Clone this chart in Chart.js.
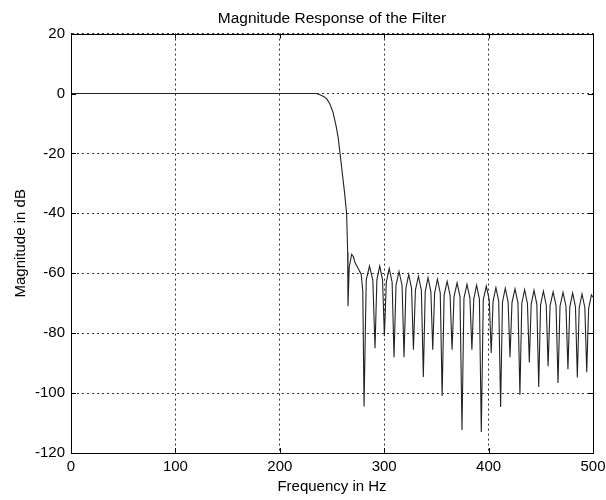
<!DOCTYPE html>
<html>
<head>
<meta charset="utf-8">
<title>Magnitude Response of the Filter</title>
<script src="https://cdn.jsdelivr.net/npm/chart.js@4/dist/chart.umd.min.js"></script>
<style>
  html, body { margin: 0; padding: 0; background: #fff; }
  #wrap { width: 606px; height: 500px; }
</style>
</head>
<body>
<div id="wrap"><canvas id="magChart" width="606" height="500"></canvas></div>
<script>
const xTicks = [0, 100, 200, 300, 400, 500];
const yTicks = [-120, -100, -80, -60, -40, -20, 0, 20];

// frequency (Hz) and magnitude (dB)
const freqHz = [
  0, 235, 238, 242, 245, 248, 251, 254, 256, 257.7, 260, 262, 264, 265, 265.3,
  266.5, 268.8, 270.5, 272, 275.5, 278, 279.5, 280.7,
  282.8, 285.9, 289.1, 291.2,
  293.0, 295.7, 298.4, 300.2,
  302.0, 304.8, 307.6, 309.4,
  311.3, 314.2, 317.1, 319,
  320.8, 323.5, 326.2, 328,
  329.9, 332.8, 335.6, 337.5,
  339.3, 342, 344.7, 346.5,
  348.3, 351, 353.7, 355.5,
  357.4, 360.3, 363.1, 365,
  366.9, 369.8, 372.6, 374.5,
  376.4, 379.3, 382.1, 384,
  385.8, 388.5, 391.2, 393,
  394.9, 397.8, 400.6, 402.5,
  404.3, 407, 409.7, 411.5,
  413.3, 416, 418.7, 420.5,
  422.4, 425.3, 428.1, 430,
  431.8, 434.5, 437.2, 439,
  440.8, 443.5, 446.2, 448,
  449.8, 452.5, 455.2, 457,
  458.9, 461.8, 464.6, 466.5,
  468.4, 471.3, 474.1, 476,
  477.8, 480.5, 483.2, 485,
  486.8, 489.5, 492.2, 494,
  495.8, 498.5, 500
];
const magDb = [
  0, 0, -0.3, -1, -1.8, -3.5, -6.3, -11, -15, -20, -27, -33, -40, -53, -71,
  -58, -53.7, -54.5, -56.4, -58.7, -60.4, -66, -104.5,
  -62.2, -57.6, -62.2, -85,
  -62.2, -57.6, -62.2, -81,
  -63, -58.4, -63, -88,
  -64, -59.4, -64, -88,
  -65, -60.4, -65, -85.5,
  -65.6, -61, -65.6, -94.6,
  -66.1, -61.5, -66.1, -85.5,
  -66.6, -62, -66.6, -101,
  -67.3, -62.7, -67.3, -85.5,
  -67.8, -63.2, -67.8, -112.3,
  -68.3, -63.7, -68.3, -85.5,
  -68.6, -64, -68.6, -113,
  -68.9, -64.3, -68.9, -86.6,
  -69.4, -64.8, -69.4, -104.6,
  -69.6, -65, -69.6, -88,
  -69.8, -65.2, -69.8, -100.6,
  -70.1, -65.5, -70.1, -89.8,
  -70.3, -65.7, -70.3, -98,
  -70.6, -66, -70.6, -91,
  -70.8, -66.2, -70.8, -96.6,
  -71, -66.4, -71, -92,
  -71.2, -66.6, -71.2, -94.8,
  -71.5, -66.9, -71.5, -93,
  -71.8, -67.2, -68
];

const fontFamily = "'Liberation Sans', Arial, sans-serif";

// MATLAB style: full box + inward tick marks on all four sides
const boxTicks = {
  id: 'boxTicks',
  afterDraw(chart) {
    const { ctx, chartArea: a, scales } = chart;
    ctx.save();
    ctx.strokeStyle = '#000';
    ctx.lineWidth = 1;
    ctx.setLineDash([]);
    ctx.strokeRect(Math.round(a.left) + 0.5, Math.round(a.top) + 0.5,
      Math.round(a.right - a.left), Math.round(a.bottom - a.top));
    ctx.beginPath();
    xTicks.forEach(v => {
      const px = Math.round(scales.x.getPixelForValue(v)) + 0.5;
      ctx.moveTo(px, a.bottom); ctx.lineTo(px, a.bottom - 5);
      ctx.moveTo(px, a.top); ctx.lineTo(px, a.top + 5);
    });
    yTicks.forEach(v => {
      const py = Math.round(scales.y.getPixelForValue(v)) + 0.5;
      ctx.moveTo(a.left, py); ctx.lineTo(a.left + 5, py);
      ctx.moveTo(a.right, py); ctx.lineTo(a.right - 5, py);
    });
    ctx.stroke();
    ctx.restore();
  }
};

const ctx = document.getElementById('magChart').getContext('2d');

const magChart = new Chart(ctx, {
  type: 'line',
  data: {
    datasets: [{
      label: 'Magnitude',
      data: freqHz.map((f, i) => ({ x: f, y: magDb[i] })),
      borderColor: '#222',
      borderWidth: 1.1,
      pointRadius: 0,
      tension: 0,
      fill: false
    }]
  },
  options: {
    responsive: false,
    animation: false,
    devicePixelRatio: 1,
    layout: {
      padding: { left: 0, right: 13, top: 0, bottom: 0 }
    },
    plugins: {
      legend: { display: false },
      tooltip: { enabled: false },
      title: {
        display: true,
        fullSize: false,
        text: 'Magnitude Response of the Filter',
        color: '#000',
        font: { family: fontFamily, size: 15.5, weight: 'normal' },
        padding: { top: 9, bottom: 6 }
      }
    },
    scales: {
      x: {
        type: 'linear',
        min: 0,
        max: 500,
        afterBuildTicks: (scale) => { scale.ticks = xTicks.map(v => ({ value: v })); },
        afterFit: (scale) => {
          scale.height = 47;
          scale.paddingRight = 0;
          scale.paddingLeft = 0;
        },
        ticks: {
          color: '#000',
          padding: 5,
          font: { family: fontFamily, size: 15 }
        },
        grid: {
          color: '#333',
          lineWidth: 1,
          drawTicks: false
        },
        border: { display: true, color: '#000', width: 1, dash: [2, 3] },
        title: {
          display: true,
          text: 'Frequency in Hz',
          color: '#000',
          font: { family: fontFamily, size: 15 },
          padding: { top: 0, bottom: 4 }
        }
      },
      y: {
        type: 'linear',
        min: -120,
        max: 20,
        afterBuildTicks: (scale) => { scale.ticks = yTicks.map(v => ({ value: v })); },
        afterFit: (scale) => { scale.width = 71; },
        ticks: {
          color: '#000',
          padding: 6,
          font: { family: fontFamily, size: 15 }
        },
        grid: {
          color: '#333',
          lineWidth: 1,
          drawTicks: false
        },
        border: { display: true, color: '#000', width: 1, dash: [2, 3] },
        title: {
          display: true,
          text: 'Magnitude in dB',
          color: '#000',
          font: { family: fontFamily, size: 15 },
          padding: { top: 12, bottom: 0 }
        }
      }
    }
  },
  plugins: [boxTicks]
});
</script>
</body>
</html>
